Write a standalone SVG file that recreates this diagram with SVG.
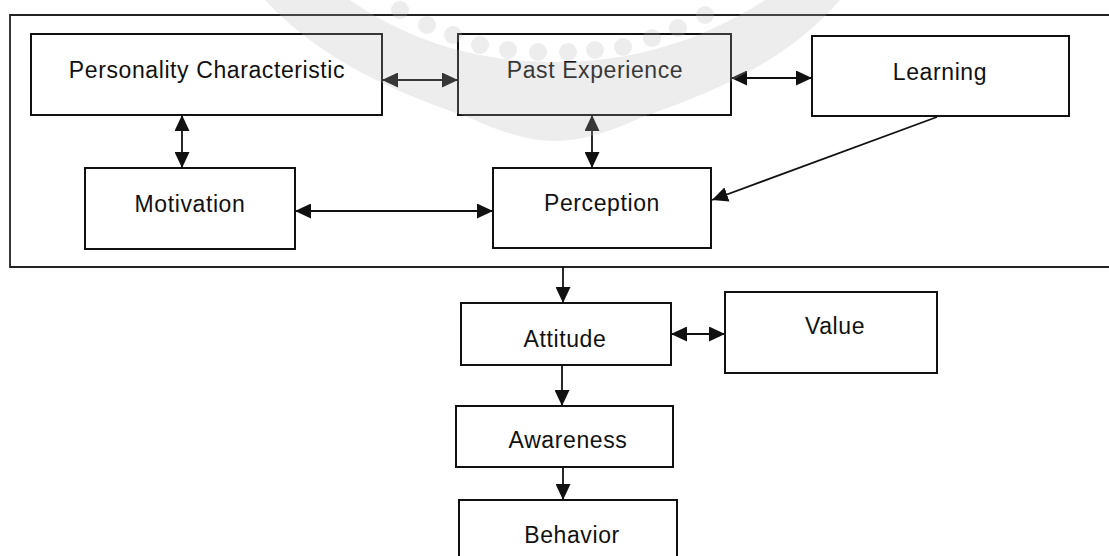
<svg xmlns="http://www.w3.org/2000/svg" width="1109" height="556" viewBox="0 0 1109 556">
<defs>
<style>
.box{fill:none;stroke:#111;stroke-width:2}
.lbl{font-family:"Liberation Sans",Arial,sans-serif;font-size:23px;letter-spacing:0.6px;fill:#111;text-anchor:middle}
.con{fill:none;stroke:#111;stroke-width:1.8}
.frame{fill:none;stroke:#222;stroke-width:1.8}
.wm{fill:#b4b4b4;fill-opacity:0.24}
</style>
<marker id="ah" markerUnits="userSpaceOnUse" markerWidth="16" markerHeight="15" refX="16" refY="7.5" orient="auto-start-reverse" viewBox="0 0 16 15">
<path d="M0,0 L16,7.5 L0,15 Z" fill="#111"/>
</marker>
</defs>
<rect width="1109" height="556" fill="#fff"/>
<path class="frame" d="M1109,15 H10 V267 H1109"/>
<g id="personality"><rect class="box" x="31" y="34" width="351" height="81"/><text class="lbl" x="207" y="78">Personality Characteristic</text></g>
<g id="past-experience"><rect class="box" x="458" y="34" width="273" height="81"/><text class="lbl" x="595" y="78">Past Experience</text></g>
<g id="learning"><rect class="box" x="812" y="36" width="257" height="80"/><text class="lbl" x="940" y="80">Learning</text></g>
<g id="motivation"><rect class="box" x="85" y="168" width="210" height="81"/><text class="lbl" x="190" y="212">Motivation</text></g>
<g id="perception"><rect class="box" x="493" y="168" width="218" height="80"/><text class="lbl" x="602" y="211">Perception</text></g>
<g id="attitude"><rect class="box" x="461" y="303" width="210" height="62"/><text class="lbl" x="565" y="347">Attitude</text></g>
<g id="value"><rect class="box" x="725" y="292" width="212" height="81"/><text class="lbl" x="835" y="334">Value</text></g>
<g id="awareness"><rect class="box" x="456" y="406" width="217" height="61"/><text class="lbl" x="568" y="448">Awareness</text></g>
<g id="behavior"><rect class="box" x="459" y="500" width="218" height="70"/><text class="lbl" x="572" y="543">Behavior</text></g>
<g id="connectors">
<line class="con" x1="382" y1="80" x2="458" y2="80" marker-start="url(#ah)" marker-end="url(#ah)"/>
<line class="con" x1="731" y1="78" x2="812" y2="78" marker-start="url(#ah)" marker-end="url(#ah)"/>
<line class="con" x1="182" y1="115" x2="182" y2="168" marker-start="url(#ah)" marker-end="url(#ah)"/>
<line class="con" x1="592" y1="115" x2="592" y2="168" marker-start="url(#ah)" marker-end="url(#ah)"/>
<line class="con" x1="295" y1="211" x2="493" y2="211" marker-start="url(#ah)" marker-end="url(#ah)"/>
<line class="con" x1="937" y1="117" x2="712" y2="200" marker-end="url(#ah)"/>
<line class="con" x1="563" y1="267" x2="563" y2="303" marker-end="url(#ah)"/>
<line class="con" x1="671" y1="334" x2="725" y2="334" marker-start="url(#ah)" marker-end="url(#ah)"/>
<line class="con" x1="562" y1="365" x2="562" y2="406" marker-end="url(#ah)"/>
<line class="con" x1="563" y1="467" x2="563" y2="500" marker-end="url(#ah)"/>
</g>
<g id="watermark">
<path class="wm" d="M265,0 C330,70 420,100 470,118 C500,132 530,141 555,141 C580,141 610,132 640,118 C690,100 780,70 840,0 L765,0 C700,42 630,62 555,62 C480,62 410,42 350,0 Z"/>
<g class="wm">
<circle cx="400" cy="10" r="9"/><circle cx="427" cy="25" r="9"/><circle cx="453" cy="35" r="9"/><circle cx="480" cy="45" r="9"/><circle cx="508" cy="50" r="9"/><circle cx="538" cy="52" r="9"/><circle cx="568" cy="52" r="9"/><circle cx="595" cy="50" r="9"/><circle cx="623" cy="47" r="9"/><circle cx="652" cy="38" r="9"/><circle cx="678" cy="28" r="9"/><circle cx="705" cy="15" r="9"/>
</g>
</g>
</svg>
